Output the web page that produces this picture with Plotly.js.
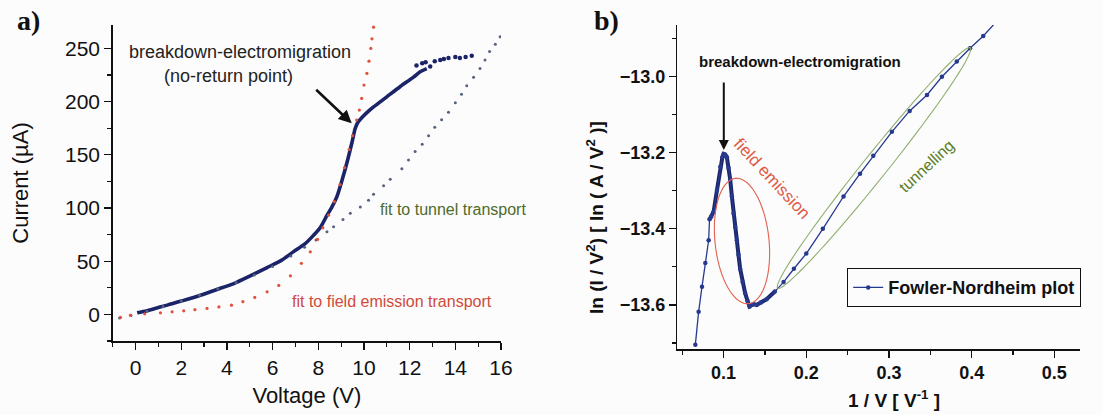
<!DOCTYPE html>
<html>
<head>
<meta charset="utf-8">
<script src="https://cdn.plot.ly/plotly-3.0.1.min.js"></script>
<style>html,body{margin:0;padding:0;background:#fcfcfc;}#chart{width:1103px;height:415px;}</style>
</head>
<body>
<div id="chart"></div>
<script>
// ---- Panel a: I-V curve ----
const voltage = [0.07,0.5,1.0,1.39,2.0,2.84,3.5,4.3,5.0,5.76,6.4,6.92,7.4,7.8,8.1,8.38,8.6,8.82,9.04,9.26,9.48,9.62,9.75,9.91,10.2,10.42,11.0,11.58,12.17,12.46,12.75];
const current = [1.5,3.5,6.5,8.7,12.5,18,23,29,36,44,51,59,66,74.5,82,93,101,111,126,143,162,175,181,185,191,195,204.5,214,223,228,231];
const voltageTail = [12.3,12.55,12.7,12.9,13.1,13.34,13.5,13.7,14.0,14.2,14.45,14.72];
const currentTail = [234,236,237,233,238,239,240,241,242,241,242,243];
const fitFieldV = [-0.66,-0.22,0.4,1.09,1.6,2.11,2.6,3.13,3.65,4.2,4.7,5.22,5.76,6.27,6.78,7.26,7.65,7.97,8.2,8.45,8.7,8.95,9.15,9.35,9.5,9.68,9.8,9.9,10.0,10.13,10.22,10.3,10.35,10.42];
const fitFieldI = [-2.8,-0.7,0.5,1.5,2.4,3.4,4.4,5.6,7,8.7,12,16,21.2,27.2,36.3,48,58.8,70.5,81.4,93.3,106,122,138,155,168,182.6,192,203,215.5,226.5,238,250,259,270];
const fitTunnelV = [-0.7,-0.2,0.5,1.2,2.0,2.8,3.6,4.4,5.2,6.0,6.8,7.4,7.9,8.38,8.67,9.08,9.4,9.84,10.2,10.42,10.86,11.15,11.66,11.95,12.24,12.55,12.83,13.1,13.4,13.7,14.0,14.27,14.5,14.8,15.08,15.3,15.5,15.75,15.96];
const fitTunnelI = [-3.5,-1,3,7.5,12.5,18,24,30,37,45,55,63,70,77.6,82.3,89.3,95,101,107.4,113,121,127,137,145,153,160,168,176,183,190,199,207,215,223,231,239,247,254,261];

// ---- Panel b: Fowler-Nordheim plot ----
const invV = [0.0658,0.0698,0.0739,0.0779,0.0819,0.0830,0.0850,0.0879,0.0920,0.0960,0.0985,0.1000,0.1020,0.1040,0.1060,0.1080,0.1100,0.1120,0.1140,0.1160,0.1180,0.1200,0.1230,0.1260,0.1290,0.1314,0.1340,0.1360,0.1400,0.1450,0.1520,0.1620,0.1725,0.1850,0.2000,0.2200,0.2450,0.2650,0.2810,0.3035,0.3250,0.3460,0.3640,0.3820,0.3980,0.4140,0.4300];
const lnIV2 = [-13.705,-13.618,-13.552,-13.490,-13.430,-13.375,-13.368,-13.355,-13.298,-13.237,-13.212,-13.203,-13.205,-13.212,-13.240,-13.270,-13.315,-13.360,-13.395,-13.430,-13.468,-13.505,-13.540,-13.569,-13.590,-13.604,-13.600,-13.598,-13.600,-13.594,-13.585,-13.565,-13.540,-13.505,-13.465,-13.400,-13.315,-13.255,-13.208,-13.145,-13.090,-13.048,-13.000,-12.960,-12.925,-12.893,-12.855];

const xTicksA = {dtick: 2, minor: 1}, yTicksA = {dtick: 50, minor: 25};
const xTicksB = {dtick: 0.1, minor: 0.05}, yTicksB = {dtick: 0.2, minor: 0.1};

// ---- helpers (pixel -> paper) ----
const W = 1103, H = 415;
const px = x => x / W;
const py = y => 1 - y / H;
const SANS = 'Liberation Sans, Arial, sans-serif';
const SERIF = 'Liberation Serif, Times New Roman, serif';

function ellipsePath(cx, cy, a, b, deg) {
  const th = deg * Math.PI / 180;
  let d = '';
  for (let i = 0; i <= 72; i++) {
    const t = i / 72 * 2 * Math.PI;
    const X = cx + a * Math.cos(t) * Math.cos(th) - b * Math.sin(t) * Math.sin(th);
    const Y = cy + a * Math.cos(t) * Math.sin(th) + b * Math.sin(t) * Math.cos(th);
    d += (i === 0 ? 'M' : 'L') + px(X).toFixed(5) + ',' + py(Y).toFixed(5);
  }
  return d + 'Z';
}

const NAVY = '#1b2468';
const FNBLUE = '#26398f';

const denseX = [], denseY = [];
invV.forEach((v, i) => { if (v >= 0.083 && v <= 0.165) { denseX.push(v); denseY.push(lnIV2[i]); } });

const traces = [
  {x: voltage, y: current, xaxis: 'x', yaxis: 'y', mode: 'lines', line: {color: NAVY, width: 3.6, shape: 'spline', smoothing: 0.8}, showlegend: false, hoverinfo: 'skip'},
  {x: voltageTail, y: currentTail, xaxis: 'x', yaxis: 'y', mode: 'markers', marker: {color: NAVY, size: 4.5}, showlegend: false},
  {x: fitTunnelV, y: fitTunnelI, xaxis: 'x', yaxis: 'y', mode: 'markers', marker: {color: '#56627f', size: 3}, showlegend: false},
  {x: fitFieldV, y: fitFieldI, xaxis: 'x', yaxis: 'y', mode: 'markers', marker: {color: '#e0523f', size: 3.2}, showlegend: false},
  {x: denseX, y: denseY, xaxis: 'x2', yaxis: 'y2', mode: 'lines', line: {color: NAVY, width: 4}, showlegend: false},
  {x: invV, y: lnIV2, xaxis: 'x2', yaxis: 'y2', mode: 'lines+markers', name: 'Fowler-Nordheim plot',
   line: {color: FNBLUE, width: 1.3}, marker: {color: FNBLUE, size: 4.5}, showlegend: true}
];

function axisBase(extra) {
  return Object.assign({
    showline: true, linecolor: '#111', linewidth: 1.5, mirror: false,
    ticks: 'outside', ticklen: 7, tickwidth: 1.3, tickcolor: '#111',
    showgrid: false, zeroline: false, fixedrange: true
  }, extra);
}

function note(x, y, text, font, extra) {
  return Object.assign({xref: 'paper', yref: 'paper', x: px(x), y: py(y), xanchor: 'center', yanchor: 'middle',
    text: text, showarrow: false, font: font}, extra || {});
}

const layout = {
  width: W, height: H,
  margin: {l: 0, r: 0, t: 0, b: 0},
  paper_bgcolor: '#fcfcfc', plot_bgcolor: 'rgba(0,0,0,0)',
  font: {family: SANS, color: '#111'},
  xaxis: axisBase({
    domain: [px(112.7), px(501)], anchor: 'y', range: [-1, 16], tick0: 0, dtick: xTicksA.dtick,
    minor: {dtick: xTicksA.minor, ticks: 'outside', ticklen: 4, tickcolor: '#111', tickwidth: 1.2},
    tickfont: {family: SANS, size: 21, color: '#111'},
    title: {text: 'Voltage (V)', font: {family: SANS, size: 22, color: '#111'}, standoff: 10}
  }),
  yaxis: axisBase({
    domain: [py(341), py(25)], anchor: 'x', range: [-25, 272], tick0: 0, dtick: yTicksA.dtick,
    minor: {dtick: yTicksA.minor, ticks: 'outside', ticklen: 4, tickcolor: '#111', tickwidth: 1.2},
    tickfont: {family: SANS, size: 21, color: '#111'},
    title: {text: 'Current (µA)', font: {family: SANS, size: 22, color: '#111'}, standoff: 30}
  }),
  xaxis2: axisBase({
    domain: [px(677.3), px(1080)], anchor: 'y2', range: [0.044, 0.531], tick0: 0, dtick: xTicksB.dtick, tickformat: '.1f',
    minor: {dtick: xTicksB.minor, ticks: 'outside', ticklen: 4, tickcolor: '#111', tickwidth: 1.2},
    tickfont: {family: SANS, size: 18, color: '#111', weight: 'bold'}
  }),
  yaxis2: axisBase({
    domain: [py(349), py(25)], anchor: 'x2', range: [-13.716, -12.864], tick0: -13, dtick: yTicksB.dtick, tickformat: '.1f',
    minor: {dtick: yTicksB.minor, ticks: 'outside', ticklen: 4, tickcolor: '#111', tickwidth: 1.2},
    tickfont: {family: SANS, size: 18, color: '#111', weight: 'bold'}
  }),
  legend: {
    x: px(847), y: py(268), xanchor: 'left', yanchor: 'top',
    bordercolor: '#111', borderwidth: 1.2, bgcolor: 'rgba(0,0,0,0)',
    font: {family: SANS, size: 18, color: '#111', weight: 'bold'}, itemwidth: 30
  },
  shapes: [
    {type: 'path', xref: 'paper', yref: 'paper', path: ellipsePath(742, 241, 63, 27, 84), line: {color: '#e2614f', width: 1.1}},
    {type: 'path', xref: 'paper', yref: 'paper', path: ellipsePath(874, 168, 154, 12, -51.3), line: {color: '#8fae6e', width: 1.1}}
  ],
  annotations: [
    note(28, 20, '<b>a)</b>', {family: SERIF, size: 28, color: '#111'}),
    note(606, 20, '<b>b)</b>', {family: SERIF, size: 28, color: '#111'}),
    note(240, 51.7, 'breakdown-electromigration', {family: SANS, size: 18, color: '#222'}),
    note(228, 76, '(no-return point)', {family: SANS, size: 18, color: '#222'}),
    {xref: 'paper', yref: 'paper', x: px(351.7), y: py(123.3), ax: -37, ay: -35, text: '', showarrow: true, arrowhead: 2, arrowsize: 1, arrowwidth: 2.6, arrowcolor: '#111'},
    note(378, 209.3, 'fit to tunnel transport', {family: SANS, size: 16, color: '#4e6b2b'}, {xanchor: 'left'}),
    note(290, 301.7, 'fit to field emission transport', {family: SANS, size: 16, color: '#d04a3a'}, {xanchor: 'left'}),
    note(800, 61.7, '<b>breakdown-electromigration</b>', {family: SANS, size: 15, color: '#111'}),
    {xref: 'paper', yref: 'paper', x: px(723.8), y: py(150), ax: 0, ay: -69, text: '', showarrow: true, arrowhead: 2, arrowsize: 1, arrowwidth: 2, arrowcolor: '#111'},
    note(772, 178, 'field emission', {family: SANS, size: 17, color: '#dc5a45'}, {textangle: 47}),
    note(926, 166, 'tunnelling', {family: SANS, size: 16, color: '#5b7d25'}, {textangle: -43}),
    note(595, 218, '<b>ln (I / V<sup>2</sup>) [ ln ( A / V<sup>2</sup> )]</b>', {family: SANS, size: 19, color: '#111'}, {textangle: -90}),
    note(894, 399, '<b>1 / V [ V<sup>-1</sup> ]</b>', {family: SANS, size: 19, color: '#111'})
  ]
};

Plotly.newPlot('chart', traces, layout, {displayModeBar: false, staticPlot: true});
</script>
</body>
</html>
